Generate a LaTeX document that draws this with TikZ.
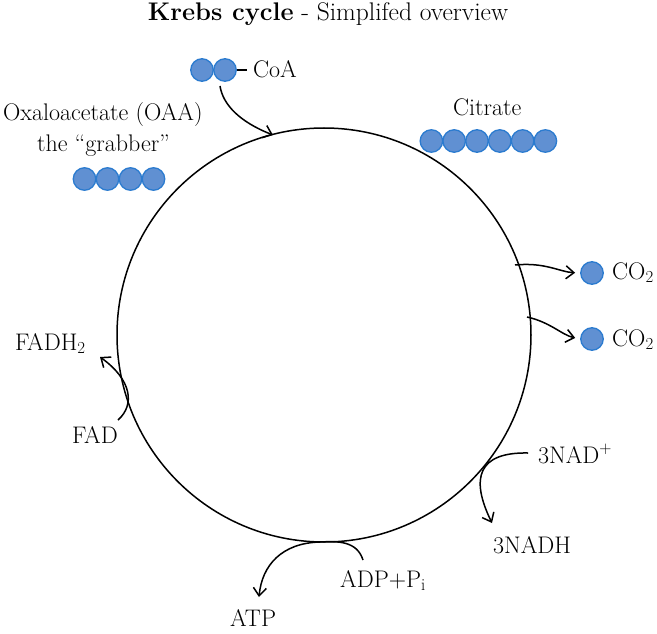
\documentclass[tikz,border=0pt]{standalone}
\usepackage{tikz}
\usetikzlibrary{arrows.meta}
\definecolor{beadfill}{HTML}{6090D2}
\definecolor{beadline}{HTML}{2B7BCF}

\begin{document}
\begin{tikzpicture}[x=1pt, y=-1pt,
    lbl/.style={anchor=base west, inner sep=0pt, font=\fontsize{24}{28}\selectfont},
    bead/.style={circle, draw=beadline, fill=beadfill, line width=1.3pt, minimum size=22.5pt, inner sep=0pt},
    flow/.style={line width=1.5pt, -{Straight Barb[length=8pt, width=13pt, line width=1.5pt]}}]

    \useasboundingbox (0,0) rectangle (657,634);

    % Title
    \node[anchor=base, inner sep=0pt, font=\fontsize{25.5}{30}\selectfont] (title) at (328,21) {\textbf{Krebs cycle} - Simplifed overview};

    % The cycle itself
    \node[draw, circle, line width=1.5pt, minimum size=414pt, inner sep=0pt] (krebs) at (324,335) {};

    % Acetyl group carried by CoA
    \node[bead] (coa1) at (202,70) {};
    \node[bead] (coa2) at (225,70) {};
    \node[lbl] (coa) at (253,78) {CoA};
    \draw[line width=1.3pt, shorten >=6pt] (coa2.east) -- (coa2.east -| coa.west);
    \coordinate (coa-out) at (220,86);
    \coordinate (coa-in) at (273,135);
    \draw[flow] (coa-out) .. controls (223,105) and (240,122) .. (coa-in);

    % Oxaloacetate (4 carbons)
    \node[lbl] (oaa) at (3,121) {Oxaloacetate (OAA)};
    \node[lbl] (grab) at (37,152) {the ``grabber''};
    \foreach \i in {1,...,4}
        \node[bead] (oaa\i) at ({61.5+23*\i},179) {};

    % Citrate (6 carbons)
    \node[lbl] (cit) at (453,116) {Citrate};
    \foreach \i in {1,...,6}
        \node[bead] (cit\i) at ({408.6+22.8*\i},141) {};

    % Carbon dioxide released
    \node[bead] (co2a) at (592,273) {};
    \node[lbl] (co2alab) at (612,279) {CO\textsubscript{2}};
    \node[bead] (co2b) at (592,339) {};
    \node[lbl] (co2blab) at (612,346) {CO\textsubscript{2}};
    \coordinate (co2a-out) at (515,265);
    \coordinate (co2b-out) at (527,317);
    \draw[flow, shorten >=5pt] (co2a-out) .. controls (545,262) and (560,272) .. (co2a.west);
    \draw[flow, shorten >=5pt] (co2b-out) .. controls (550,322) and (562,335) .. (co2b.west);

    % FAD reduced
    \node[lbl] (fad) at (72,443) {FAD};
    \node[lbl] (fadh) at (15,350) {FADH\textsubscript{2}};
    \coordinate (fad-out) at (118,420);
    \coordinate (fadh-in) at (100,357);
    \draw[flow] (fad-out) .. controls (135,405) and (132,380) .. (fadh-in);

    % NAD reduced
    \node[lbl] (nad) at (538,463) {3NAD\textsuperscript{+}};
    \node[lbl] (nadh) at (493,553) {3NADH};
    \coordinate (nad-out) at (528,453);
    \coordinate (nadh-in) at (492,523);
    \draw[flow] (nad-out) .. controls (478,452) and (470,478) .. (nadh-in);

    % ATP made
    \node[lbl] (adp) at (340,587) {ADP+P\textsubscript{i}};
    \node[lbl] (atp) at (230,626) {ATP};
    \coordinate (adp-out) at (363,560);
    \coordinate (atp-in) at (259,597);
    \draw[flow] (adp-out) .. controls (357,541) and (338,541) .. (320,542)
        .. controls (282,543) and (262,565) .. (atp-in);

\end{tikzpicture}
\end{document}
